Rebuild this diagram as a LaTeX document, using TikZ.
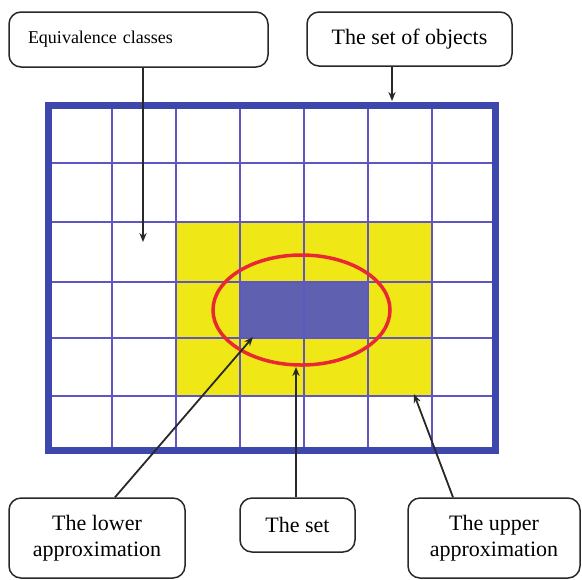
\documentclass[tikz,border=0pt]{standalone}
\usepackage{fontspec}
\setmainfont{Liberation Serif}
\usetikzlibrary{arrows.meta,calc}
\definecolor{framecol}{RGB}{62,72,172}
\definecolor{gridcol}{RGB}{95,85,195}
\definecolor{lowcol}{RGB}{96,96,176}
\definecolor{upcol}{RGB}{240,232,22}
\definecolor{setcol}{RGB}{232,40,52}
\definecolor{arrcol}{RGB}{40,40,40}

\begin{document}
\begin{tikzpicture}[x=0.5pt,y=-0.5pt,>=Stealth,font=\fontsize{11}{13}\selectfont]
\tikzstyle{lbl}=[draw=arrcol,fill=white,line width=0.75pt,rounded corners=6pt,align=center,inner sep=0pt]
\tikzstyle{arr}=[draw=arrcol,line width=0.9pt,-{Stealth[length=4.5pt,width=3.6pt]}]
\tikzstyle{gl}=[gridcol,line width=0.55pt]
\useasboundingbox (0,0) rectangle (582,579);
% approximations
\fill[upcol] (176,222) rectangle (432,396);
\fill[lowcol] (240,282) rectangle (368,338);
% grid of equivalence classes
\foreach \x in {112,176,240,304,368,432} \draw[gl] (\x,105) -- (\x,451);
\foreach \y in {163,222,282,338,396} \draw[gl] (48,\y) -- (496,\y);
\draw[framecol,line width=3.5pt] (48.5,105.5) rectangle (495.5,450.5);
\draw[setcol,line width=1.75pt] (301.5,310) ellipse [x radius=88.5,y radius=55];
% labels
\node[lbl,minimum width=129.5pt,minimum height=27.5pt,text width=110.5pt,align=left,font=\fontsize{9}{10}\selectfont] (eq) at (138.5,39.5) {Equivalence classes};
\node[lbl,minimum width=102.5pt,minimum height=27pt] (obj) at (409.5,39) {The set of objects};
\node[lbl,minimum width=88pt,minimum height=40pt] (lower) at (97,538) {The lower\\approximation};
\node[lbl,minimum width=57.5pt,minimum height=27pt] (set) at (297.5,525) {The set};
\node[lbl,minimum width=86pt,minimum height=40pt] (upper) at (494,538) {The upper\\approximation};
\coordinate (eqtip) at (143,242);
\coordinate (objtip) at (392,101);
\coordinate (lowtip) at (253,337);
\coordinate (settip) at (296,367);
\coordinate (uptip) at (414,394);
\draw[arr] (eqtip |- eq.south) -- (eqtip);
\draw[arr] (objtip |- obj.south) -- (objtip);
\draw[arr] ($(lower.north)+(18,0)$) -- (lowtip);
\draw[arr] (settip |- set.north) -- (settip);
\draw[arr] ($(upper.north)+(-41,0)$) -- (uptip);
\end{tikzpicture}
\end{document}
